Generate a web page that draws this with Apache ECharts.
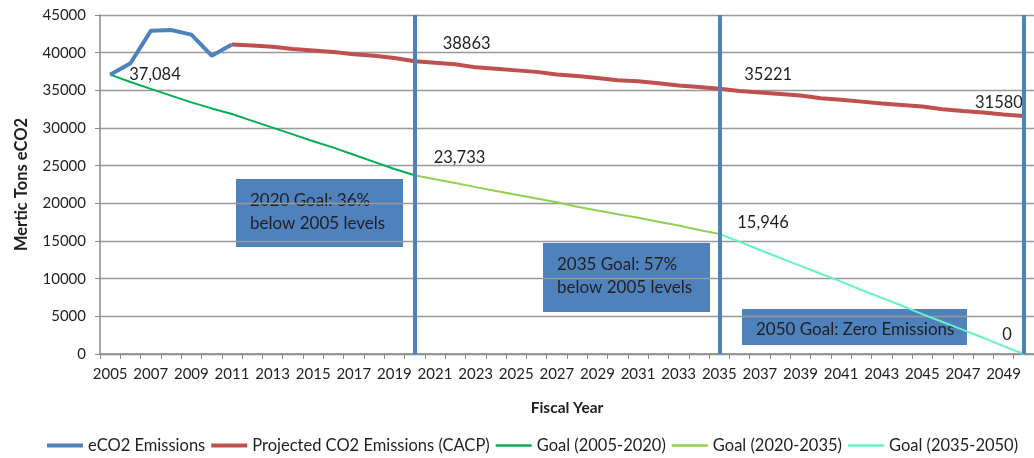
<!DOCTYPE html>
<html>
<head>
<meta charset="utf-8">
<script src="https://cdn.jsdelivr.net/npm/echarts@6/dist/echarts.min.js"></script>
<style>
  html, body { margin: 0; padding: 0; background: #fff; }
  #chart { width: 1034px; height: 458px; }
</style>
</head>
<body>
<div id="chart"></div>
<script>
// fiscal years 2005..2050
const years = []
for (let y = 2005; y <= 2050; y++) years.push(String(y))

// actual emissions 2005-2011
const eco2 = [37084, 38600, 42900, 43000, 42400, 39600, 41100]

// projected emissions (CACP) 2011-2050
const projected = [
  41100, 40950, 40800, 40500, 40300, 40100, 39800, 39600, 39300, 38863,
  38650, 38450, 38050, 37850, 37650, 37450, 37100, 36900, 36650, 36350,
  36200, 35950, 35650, 35450, 35221, 34900, 34700, 34500, 34300, 33950,
  33750, 33500, 33250, 33050, 32850, 32500, 32250, 32050, 31800, 31580
]

// goal paths
const goal2020 = [37084, 36100, 35200, 34300, 33400, 32600, 31850, 30950, 30050, 29150, 28250, 27400, 26450, 25500, 24550, 23733]
const goal2035 = [23733, 23200, 22700, 22150, 21650, 21150, 20650, 20150, 19550, 19050, 18550, 18100, 17550, 17050, 16450, 15946]
const goal2050 = [15946, 14900, 13800, 12750, 11700, 10650, 9600, 8500, 7450, 6400, 5300, 4250, 3200, 2150, 1050, 0]

const milestoneYears = ['2020', '2035', '2050']

const FONT = 'Lato, "Open Sans", sans-serif'
const TXT = '#1f1f1f'
const comma = p => p.value.toLocaleString('en-US')

// place a series onto the full year axis starting at a given year
const place = (vals, startYear, labels) => {
  const out = years.map(() => null)
  const start = years.indexOf(String(startYear))
  vals.forEach((v, i) => {
    const lab = labels && labels[i]
    out[start + i] = lab
      ? { value: v, label: Object.assign({ show: true, color: TXT, fontSize: 16.5, fontFamily: FONT }, lab) }
      : v
  })
  return out
}

const chart = echarts.init(document.getElementById('chart'))

const lineSeries = (name, color, width, data, extra) => Object.assign({
  name,
  type: 'line',
  data,
  symbol: 'circle',
  symbolSize: 0,
  showSymbol: true,
  connectNulls: false,
  lineStyle: { color, width },
  itemStyle: { color },
  z: 3,
  animation: false
}, extra || {})

const boxes = [
  { x: 236, y: 179, w: 167, h: 68, lines: ['2020 Goal: 36%', 'below 2005 levels'] },
  { x: 543, y: 243, w: 167, h: 69, lines: ['2035 Goal: 57%', 'below 2005 levels'] },
  { x: 742, y: 309, w: 225, h: 36, lines: ['2050 Goal: Zero Emissions'] }
]

const graphic = boxes.map(b => ({
  type: 'group',
  z: 100,
  children: [
    { type: 'rect', shape: { x: b.x, y: b.y, width: b.w, height: b.h }, style: { fill: '#4f81bd' } },
    {
      type: 'text',
      x: b.x + 14,
      y: b.y + (b.lines.length > 1 ? 10 : 9),
      style: {
        text: b.lines.join('\n'),
        fill: TXT,
        font: '17px ' + FONT,
        lineHeight: 23,
        verticalAlign: 'top'
      }
    }
  ]
}))

const thick = 'path://M0,0L36,0L36,4L0,4Z'
const thin = 'path://M0,0L36,0L36,2.5L0,2.5Z'

const option = {
  backgroundColor: '#fff',
  animation: false,
  grid: { left: 100, top: 15, width: 939, height: 339, containLabel: false },
  legend: {
    top: 437,
    left: 42,
    padding: [0, 5],
    itemGap: 6,
    itemWidth: 36,
    itemHeight: 10,
    symbolKeepAspect: true,
    textStyle: { color: TXT, fontSize: 16.5, fontFamily: FONT },
    data: [
      { name: 'eCO2 Emissions', icon: thick },
      { name: 'Projected CO2 Emissions (CACP)', icon: thick },
      { name: 'Goal (2005-2020)', icon: thin },
      { name: 'Goal (2020-2035)', icon: thin },
      { name: 'Goal (2035-2050)', icon: thin }
    ]
  },
  xAxis: {
    type: 'category',
    data: years,
    boundaryGap: true,
    name: 'Fiscal Year',
    nameLocation: 'middle',
    nameGap: 46,
    nameTextStyle: { color: TXT, fontSize: 15.5, fontWeight: 'bold', fontFamily: FONT },
    axisLine: { lineStyle: { color: '#888', width: 1.5 } },
    axisTick: { show: true, interval: 0, length: 5, lineStyle: { color: '#888' } },
    axisLabel: { interval: 1, color: TXT, fontSize: 15, fontFamily: FONT, margin: 13 },
    splitLine: { show: false }
  },
  yAxis: {
    type: 'value',
    min: 0,
    max: 45000,
    interval: 5000,
    name: 'Mertic Tons eCO2',
    nameLocation: 'middle',
    nameGap: 70,
    nameTextStyle: { color: TXT, fontSize: 16.5, fontWeight: 'bold', fontFamily: FONT },
    axisLine: { show: true, lineStyle: { color: '#888', width: 1.5 } },
    axisTick: { show: true, length: 5, lineStyle: { color: '#888' } },
    axisLabel: { color: TXT, fontSize: 15, fontFamily: FONT, margin: 14, formatter: v => String(v) },
    splitLine: { lineStyle: { color: '#999', width: 1.3 } }
  },
  graphic,
  series: [
    lineSeries('eCO2 Emissions', '#4f81bd', 4, place(eco2, 2005, [
      { position: 'right', offset: [14, 0], formatter: comma }
    ]), { z: 4 }),
    lineSeries('Projected CO2 Emissions (CACP)', '#c0504d', 4, place(projected, 2011, Object.assign([], {
      9: { position: 'right', offset: [23, -18] },
      24: { position: 'right', offset: [20, -14] },
      39: { position: 'left', offset: [4, -13] }
    }))),
    lineSeries('Goal (2005-2020)', '#00b050', 2, place(goal2020, 2005)),
    lineSeries('Goal (2020-2035)', '#92d050', 2, place(goal2035, 2020, Object.assign([], {
      0: { position: 'right', offset: [14, -18], formatter: comma }
    }))),
    lineSeries('Goal (2035-2050)', '#66f2c8', 2, place(goal2050, 2035, Object.assign([], {
      0: { position: 'right', offset: [13, -11], formatter: comma },
      15: { position: 'left', offset: [-7, -19] }
    }))),
    {
      name: 'milestones',
      type: 'line',
      data: [],
      silent: true,
      z: 5,
      markLine: {
        silent: true,
        symbol: 'none',
        label: { show: false },
        lineStyle: { color: '#4f81bd', width: 4, type: 'solid' },
        data: milestoneYears.map(y => ({ xAxis: y }))
      }
    }
  ]
}

chart.setOption(option)
</script>
</body>
</html>
